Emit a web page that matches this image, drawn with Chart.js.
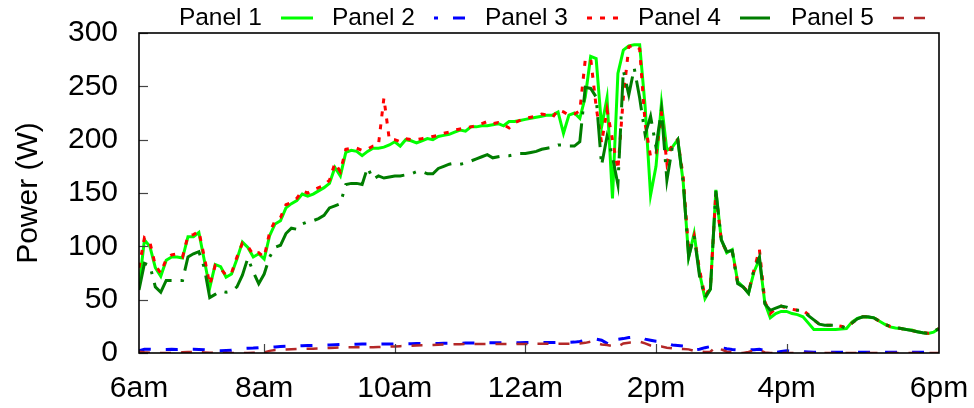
<!DOCTYPE html>
<html>
<head>
<meta charset="utf-8">
<script src="https://cdn.jsdelivr.net/npm/chart.js@4.4.1/dist/chart.umd.min.js"></script>
<style>
  html, body { margin: 0; padding: 0; background: #fff; }
  canvas { display: block; }
</style>
</head>
<body>
<canvas id="power" width="974" height="408"></canvas>
<script>
// Samples every 5 minutes, from 6:05 to 18:20
const START_HOUR = 6 + 5 / 60;
const STEP_HOURS = 5 / 60;

const tickHours = [6 + 5 / 60, 8, 10, 12, 14, 16, 18 + 20 / 60];
const tickLabels = ['6am', '8am', '10am', '12am', '2pm', '4pm', '6pm'];
const yTicks = [0, 50, 100, 150, 200, 250, 300];
const panelNames = ['Panel 1', 'Panel 2', 'Panel 3', 'Panel 4', 'Panel 5'];

const panel1 = [
  62, 106, 100, 80, 72, 87, 90, 90, 89, 109,
  109, 113, 87, 61, 83, 81, 71, 74, 88, 104,
  99, 90, 93, 88, 110, 121, 124, 136, 140, 143,
  149, 147, 149, 152, 155, 159, 174, 166, 188, 190,
  189, 185, 189, 192, 192, 193, 195, 198, 194, 200,
  199, 197, 199, 201, 200, 203, 204, 205, 207, 209,
  208, 212, 212, 213, 213, 214, 215, 213, 217, 217,
  218, 219, 220, 221, 222, 223, 223, 226, 206, 223,
  225, 220, 240, 278, 276, 212, 239, 145, 262, 284,
  288, 289, 289, 231, 148, 175, 234, 190, 193, 200,
  160, 90, 112, 75, 51, 60, 153, 106, 94, 97,
  67, 62, 56, 76, 88, 47, 33, 37, 39, 39,
  37, 36, 34, 28, 22, 22, 22, 22, 22, 22.5,
  23, 29, 32.5, 34, 33.5, 33, 30, 27, 24.5, 23.5,
  23, 22, 21.5, 20, 19, 18.4, 19.5, 23
];

const panel2 = [
  2, 3.5, 3.5, 3.3, 3.2, 3.3, 3.4, 3.3, 3.5, 3.6,
  3.5, 3.3, 3, 2.5, 2.2, 2.2, 2.3, 2.5, 3.5, 4.2,
  4.4, 4.6, 5, 5.2, 5.3, 5.6, 6, 6.3, 6.5, 6.6,
  6.8, 7, 7.1, 7.2, 7.3, 7.5, 7.8, 8, 8.1, 8.2,
  8.3, 8.4, 8.4, 8.4, 8.4, 8.5, 8.5, 8.5, 8.6, 8.6,
  8.7, 8.8, 8.8, 8.9, 9, 9, 9.1, 9.1, 9.2, 9.2,
  9.3, 9.3, 9.4, 9.4, 9.5, 9.5, 9.6, 9.6, 9.7, 9.7,
  9.7, 9.8, 9.8, 9.8, 9.9, 9.9, 9.9, 10, 10, 10,
  10.2, 10.8, 12, 13.8, 13, 12, 9, 6, 12.8, 13.5,
  14.5, 15, 15.3, 13, 12, 11, 10.6, 9, 7.5, 7,
  6.6, 5, 3, 3.5, 5, 6, 6, 5, 4, 3.2,
  2.8, 2.8, 2.9, 3, 3.4, 2.5, 1, 0.5, 1.5, 2,
  1.5, 1.2, 1.2, 1, 0.8, 0.7, 0.6, 0.6, 0.6, 0.6,
  0.6, 0.6, 0.6, 0.6, 0.6, 0.6, 0.6, 0.6, 0.6, 0.6,
  0.6, 0.6, 0.6, 0.6, 0.6, 0.6, 0.6, 0.6
];

const panel3 = [
  80, 108, 104, 82, 75, 88, 92, 93, 90, 110,
  111, 114, 90, 64, 82, 79, 73, 75, 90, 103,
  100, 92, 94, 90, 113, 124, 127, 139, 141, 145,
  152, 150, 153, 155, 157, 162, 178, 170, 191, 192,
  192, 190, 191, 194, 195, 239, 200, 200, 198, 201,
  200, 200, 201, 202, 203, 204, 206, 207, 209, 210,
  211, 212, 213, 215, 217, 215, 216, 214, 211, 216,
  218, 220, 221, 222, 224, 223, 221, 228, 226, 223,
  224, 227, 275, 276, 231, 197, 228, 200, 172, 240,
  287, 289, 285, 215, 184, 186, 225, 178, 197, 200,
  165, 95, 110, 78, 53, 62, 150, 105, 95, 96,
  66, 62, 57, 78, 97, 48, 37, 42, 44, 42,
  41, 40, 40, 36, 31, 27, 26, 26, 26, 25,
  24, 28, 32, 34, 34, 33, 30, 27, 25, 24,
  23, 22, 21, 20, 19, 18.5, 20, 23
];

const panel4 = [
  59, 84, 82, 62, 57, 68, 68, 68, 68, 90,
  93, 95, 80, 52, 55, 58, 57, 58, 62, 73,
  89, 76, 65, 74, 90, 99, 101, 112, 117, 116,
  121, 123, 124, 126, 129, 136, 138, 140, 158, 159,
  159, 158, 174, 163, 166, 164, 165, 166, 166, 167,
  168, 170, 170, 168, 168, 173, 175, 177, 178, 177,
  178, 180, 182, 184, 186, 183, 184, 185, 185, 186,
  187, 187, 188, 189, 191, 192, 193, 195, 195, 194,
  194, 198, 249, 248, 240, 176, 203, 184, 158, 265,
  242, 267, 239, 205, 222, 193, 228, 162, 193, 200,
  160, 90, 110, 72, 52, 60, 152, 106, 95, 96,
  65, 62, 56, 78, 90, 46, 40, 42, 44, 43,
  41, 40, 40, 35, 31, 27, 26, 26, 26, 25,
  23, 28, 32, 34, 34, 33, 30, 27, 25, 24,
  23, 22, 21, 20, 19, 18.5, 20, 23
];

const panel5 = [
  1.2, 0.6, 0.2, 0, 0, 0, 0, 0.3, 0.6, 1,
  1, 0.8, 0.5, 0.3, 0, 0, 0, 0, 0, 0,
  0, 0.2, 0.4, 0.6, 2, 2.8, 3, 3.3, 3.5, 3.7,
  3.8, 3.9, 4, 4.2, 4.5, 4.8, 5, 5.2, 5.3, 5.3,
  5.3, 5.3, 5.4, 5.5, 5.6, 5.8, 6, 6.2, 6.4, 6.6,
  6.8, 7, 7.2, 7.4, 7.6, 7.8, 8, 8.1, 8.2, 8.3,
  8.4, 8.4, 8.4, 8.4, 8.4, 8.5, 8.5, 8.5, 8.5, 8.5,
  8.5, 8.5, 8.6, 8.6, 8.6, 8.6, 8.6, 8.6, 8.7, 8.7,
  8.7, 9, 9.5, 10.6, 9.5, 8, 7.5, 6.5, 6, 9,
  9.7, 9.8, 10.6, 9, 7, 6, 6, 5, 4.4, 4,
  3.7, 3.4, 2, 1.2, 1, 1.2, 6, 3.5, 1.2, 0.8,
  0.3, 0, 1, 2.5, 2.8, 0.5, 0, 0, 0, 0,
  0, 0, 0, 0, 0, 0, 0, 0, 0, 0,
  0, 0, 0, 0, 0, 0, 0, 0, 0, 0,
  0, 0, 0, 0, 0, 0, 0, 0
];

const series = [panel1, panel2, panel3, panel4, panel5];

// Line look for each panel
const lineStyles = [
  { color: '#00ff00', dash: [],            width: 3,   legendOffset: 0 },
  { color: '#0000ff', dash: [12, 15],      width: 3,   legendOffset: 8 },
  { color: '#ff0000', dash: [5, 8],        width: 3,   legendOffset: 0 },
  { color: '#007d00', dash: [30, 9, 3, 9], width: 3,   legendOffset: 0 },
  { color: '#b42828', dash: [11, 10],      width: 2.5, legendOffset: 0 }
];

const FONT = '"Liberation Sans", Arial, Helvetica, sans-serif';
Chart.defaults.font.family = FONT;
Chart.defaults.color = '#000';

const times = panel1.map((_, i) => START_HOUR + i * STEP_HOURS);

const datasets = series.map((values, k) => ({
  label: panelNames[k],
  data: values.map((v, i) => ({ x: times[i], y: v })),
  borderColor: lineStyles[k].color,
  borderWidth: lineStyles[k].width,
  borderDash: lineStyles[k].dash,
  borderCapStyle: 'butt',
  borderJoinStyle: 'miter',
  pointRadius: 0,
  tension: 0,
  fill: false,
  order: series.length - 1 - k   // later panels drawn over earlier ones
}));

// Keep the plot box fixed: no extra room for overhanging end labels
function fixScale(size) {
  return s => {
    if (s.isHorizontal()) s.height = size; else s.width = size;
    s.paddingLeft = 0; s.paddingRight = 0;
    s.paddingTop = 0; s.paddingBottom = 0;
  };
}

// Box round the plot, inward tick marks, and the key along the top
const framePlugin = {
  id: 'frameAndKey',
  afterDatasetsDraw(chart) {
    const { ctx, chartArea: a, scales: { x, y } } = chart;
    ctx.save();
    ctx.setLineDash([]);
    ctx.strokeStyle = '#444';
    ctx.lineWidth = 1.2;
    yTicks.forEach(v => {
      const py = Math.round(y.getPixelForValue(v)) + 0.5;
      ctx.beginPath();
      ctx.moveTo(a.left, py);
      ctx.lineTo(a.left + 9, py);
      ctx.stroke();
    });
    tickHours.slice(1, -1).forEach(h => {
      const px = Math.round(x.getPixelForValue(h)) + 0.5;
      ctx.beginPath();
      ctx.moveTo(px, a.bottom);
      ctx.lineTo(px, a.bottom - 9);
      ctx.stroke();
    });
    ctx.strokeStyle = '#000';
    ctx.lineWidth = 1.6;
    ctx.strokeRect(a.left, a.top, a.right - a.left, a.bottom - a.top);
    ctx.restore();
  },
  afterDraw(chart) {
    const { ctx } = chart;
    const KEY_RIGHT0 = 262, KEY_STEP = 153, KEY_Y = 18;
    ctx.save();
    ctx.font = '24.5px ' + FONT;
    ctx.textAlign = 'right';
    ctx.textBaseline = 'middle';
    ctx.fillStyle = '#000';
    panelNames.forEach((name, k) => {
      const tx = KEY_RIGHT0 + k * KEY_STEP;
      ctx.fillText(name, tx, KEY_Y);
      const st = lineStyles[k];
      ctx.strokeStyle = st.color;
      ctx.lineWidth = st.width;
      ctx.setLineDash(st.dash);
      ctx.lineDashOffset = st.legendOffset;
      ctx.beginPath();
      ctx.moveTo(tx + 19, KEY_Y);
      ctx.lineTo(tx + 51, KEY_Y);
      ctx.stroke();
    });
    ctx.restore();
  }
};

new Chart(document.getElementById('power'), {
  type: 'line',
  data: { datasets },
  plugins: [framePlugin],
  options: {
    responsive: false,
    animation: false,
    devicePixelRatio: 1,
    layout: { padding: { top: 33, right: 35, left: 0, bottom: 0 } },
    plugins: { legend: { display: false }, tooltip: { enabled: false } },
    scales: {
      x: {
        type: 'linear',
        min: tickHours[0],
        max: tickHours[tickHours.length - 1],
        afterBuildTicks: s => { s.ticks = tickHours.map(v => ({ value: v })); },
        afterFit: fixScale(55),
        grid: { display: false, drawTicks: false },
        border: { display: false },
        ticks: {
          autoSkip: false,
          maxRotation: 0,
          padding: 18,
          color: '#000',
          font: { size: 30 },
          callback: (v, i) => tickLabels[i]
        }
      },
      y: {
        min: 0,
        max: 300,
        afterBuildTicks: s => { s.ticks = yTicks.map(v => ({ value: v })); },
        afterFit: fixScale(139),
        grid: { display: false, drawTicks: false },
        border: { display: false },
        ticks: { padding: 21, color: '#000', font: { size: 30 } },
        title: {
          display: true,
          text: 'Power (W)',
          color: '#000',
          font: { size: 30 },
          padding: { top: 11, bottom: 0 }
        }
      }
    }
  }
});
</script>
</body>
</html>
